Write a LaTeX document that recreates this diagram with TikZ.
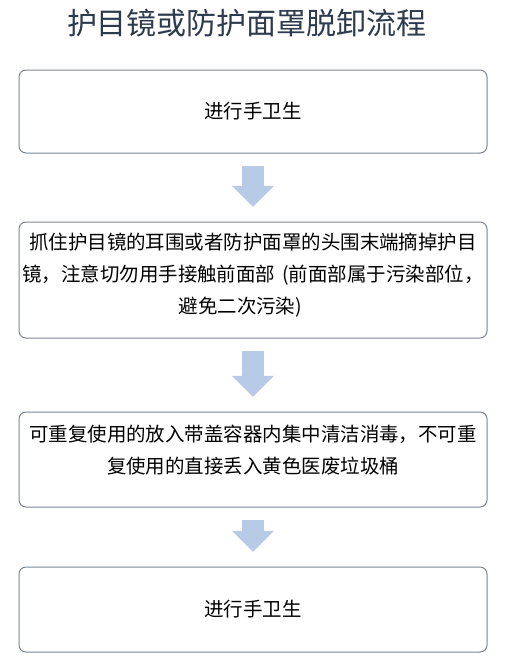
\documentclass[tikz,border=0pt]{standalone}
\usepackage{fontspec}
\setmainfont{Noto Sans CJK SC}
\usepackage{tikz}
\usetikzlibrary{arrows.meta}

\definecolor{titleblue}{RGB}{46,59,78}
\definecolor{boxgray}{RGB}{125,133,145}
\definecolor{arrowblue}{RGB}{183,203,230}

\begin{document}
\begin{tikzpicture}[x=0.75pt,y=0.75pt,yscale=-1,xscale=1,
  stepbox/.style={draw=boxgray,line width=0.75pt,rounded corners=5.25pt,minimum width=351pt,inner sep=0pt,align=center,font=\fontsize{14.6}{24}\selectfont},
  downarrow/.style={draw=arrowblue,line width=16.5pt,-{Triangle[width=31.5pt,length=15.75pt,line width=0pt]},shorten <=9pt,shorten >=11pt}]
\useasboundingbox (0,0) rectangle (506,662);

% Text Node
\draw (247,23) node [font=\fontsize{22.5}{27}\selectfont,text=titleblue] (title) {护目镜或防护面罩脱卸流程};

%Rounded Rect
\node [stepbox,minimum height=62.25pt] (hand1) at (253,111.5) {进行手卫生};
%Rounded Rect
\node [stepbox,minimum height=87pt,text depth=10pt] (remove) at (253,280) {抓住护目镜的耳围或者防护面罩的头围末端摘掉护目\\镜，注意切勿用手接触前面部\hspace{2pt} (前面部属于污染部位，\\避免二次污染)\hspace*{19pt}};
%Rounded Rect
\node [stepbox,minimum height=71.25pt,text depth=16pt] (dispose) at (253,459.5) {可重复使用的放入带盖容器内集中清洁消毒，不可重\\复使用的直接丢入黄色医废垃圾桶};
%Rounded Rect
\node [stepbox,minimum height=63.75pt] (hand2) at (253,609.5) {进行手卫生};

%Block Arrows
\draw [downarrow] (hand1) -- (remove);
\draw [downarrow] (remove) -- (dispose);
\draw [downarrow] (dispose) -- (hand2);

\end{tikzpicture}
\end{document}
